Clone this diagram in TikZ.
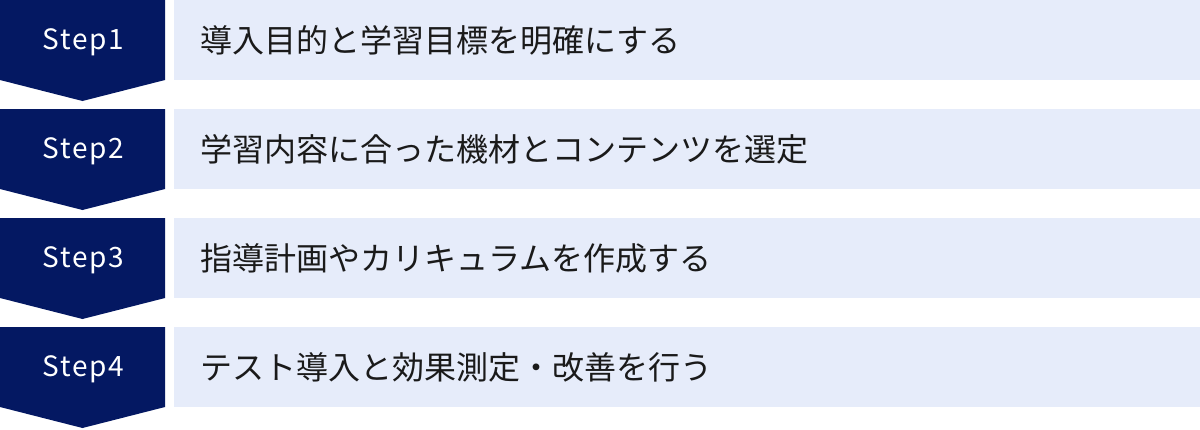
\documentclass[tikz,border=0pt]{standalone}
\usepackage{fontspec}
\setmainfont{Noto Sans CJK JP}
\newfontfamily\stepfont[LetterSpace=6]{Noto Sans CJK JP}
\definecolor{navy}{HTML}{041862}
\definecolor{lightbg}{HTML}{E6ECFA}
\definecolor{txt}{HTML}{1A1A1A}
\tikzset{
  stepshape/.style={fill=navy, draw=none},
  rowbox/.style={fill=lightbg, draw=none, minimum width=1026pt, minimum height=80pt, inner sep=0pt, anchor=north west},
  steplabel/.style={text=white, font=\stepfont\fontsize{28}{30}\selectfont, inner sep=0pt, anchor=center},
  rowlabel/.style={text=txt, font=\fontsize{32}{34}\selectfont, inner sep=0pt, anchor=west},
}
\begin{document}
\begin{tikzpicture}[x=1pt,y=-1pt]
\useasboundingbox (0,0) rectangle (1200,429);
\foreach \i/\lab/\txt in {0/Step1/導入目的と学習目標を明確にする,
                         1/Step2/学習内容に合った機材とコンテンツを選定,
                         2/Step3/指導計画やカリキュラムを作成する,
                         3/Step4/テスト導入と効果測定・改善を行う}{
  \pgfmathsetmacro{\t}{109*\i}
  \fill[stepshape] (0,\t) -- (165,\t) -- (165,\t+80) -- (82.5,\t+101) -- (0,\t+80) -- cycle;
  \node[rowbox] (box\i) at (174,\t) {};
  \node[steplabel] (step\i) at (83.5,\t+42) {\lab};
  \node[rowlabel] (text\i) at (200,\t+40) {\txt};
}
\end{tikzpicture}
\end{document}
